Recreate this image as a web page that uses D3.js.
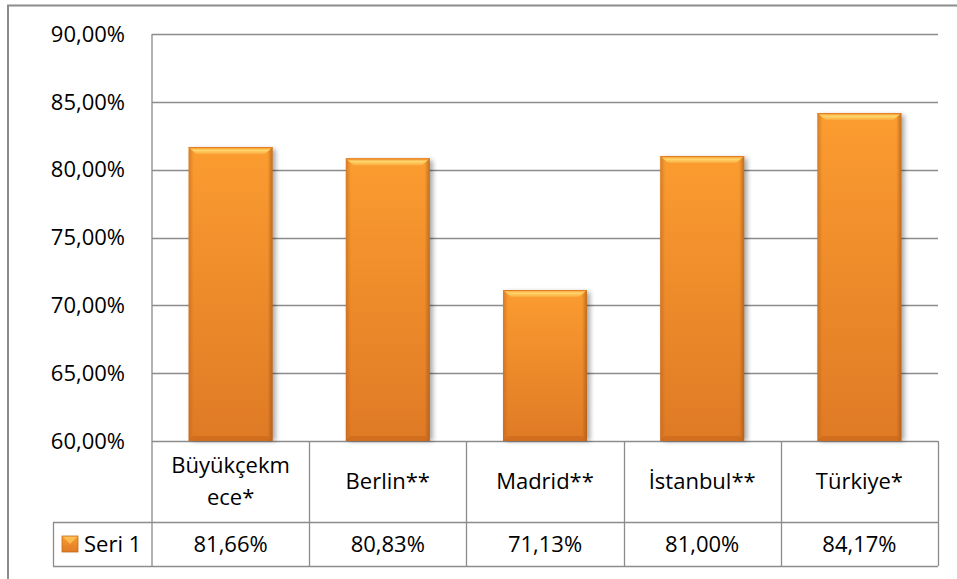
<!DOCTYPE html>
<html><head><meta charset="utf-8">
<script src="https://cdn.jsdelivr.net/npm/d3@7/dist/d3.min.js"></script>
<style>
html,body{margin:0;padding:0;background:#fff;}
svg{display:block;}
text{font-family:"Open Sans",Calibri,sans-serif;fill:#000;}
</style></head><body>
<svg id="c" width="957" height="579"></svg>
<script>
const categories = ["Büyükçekmece*", "Berlin**", "Madrid**", "İstanbul**", "Türkiye*"];
const categoryLines = [["Büyükçekm", "ece*"], ["Berlin**"], ["Madrid**"], ["İstanbul**"], ["Türkiye*"]];
const values = [0.8166, 0.8083, 0.7113, 0.8100, 0.8417];
const valueLabels = ["81,66%", "80,83%", "71,13%", "81,00%", "84,17%"];
const seriesName = "Seri 1";
const yTicks = [0.60, 0.65, 0.70, 0.75, 0.80, 0.85, 0.90];

const svg = d3.select("#c");
const W = 957, H = 579;
const plotL = 152, plotR = 938, plotT = 34, plotB = 441;
const rowCatB = 522, rowValB = 566, legendL = 53;
const grid = "#8c8c8c";
const fs = 22;

const defs = svg.append("defs");
const g1 = defs.append("linearGradient").attr("id","barG").attr("x1",0).attr("y1",0).attr("x2",0).attr("y2",1);
g1.append("stop").attr("offset","0%").attr("stop-color","#fb9c30");
g1.append("stop").attr("offset","100%").attr("stop-color","#df7a25");
const g2 = defs.append("linearGradient").attr("id","sideG").attr("x1",0).attr("y1",0).attr("x2",1).attr("y2",0);
g2.append("stop").attr("offset","0%").attr("stop-color","#b8611a").attr("stop-opacity",0.55);
g2.append("stop").attr("offset","6%").attr("stop-color","#b8611a").attr("stop-opacity",0);
g2.append("stop").attr("offset","94%").attr("stop-color","#9a4f12").attr("stop-opacity",0);
g2.append("stop").attr("offset","100%").attr("stop-color","#9a4f12").attr("stop-opacity",0.6);
const g3 = defs.append("linearGradient").attr("id","topG").attr("x1",0).attr("y1",0).attr("x2",0).attr("y2",1);
g3.append("stop").attr("offset","0%").attr("stop-color","#f7952c");
g3.append("stop").attr("offset","45%").attr("stop-color","#ffd76c");
g3.append("stop").attr("offset","100%").attr("stop-color","#fca83c");
const blur = defs.append("filter").attr("id","sh").attr("x","-20%").attr("y","-5%").attr("width","140%").attr("height","110%");
blur.append("feGaussianBlur").attr("stdDeviation",2.5);

// outer border
svg.append("rect").attr("x",8).attr("y",5.5).attr("width",W+20).attr("height",H+20)
  .attr("fill","none").attr("stroke","#8c8c8c").attr("stroke-width",2);

const y = d3.scaleLinear().domain([0.60, 0.90]).range([plotB, plotT]);
const x = d3.scaleBand().domain(categories).range([plotL, plotR]).paddingInner(0).paddingOuter(0);
const xb = d3.scaleBand().domain(categories).range([plotL, plotR]).paddingInner(0.466).paddingOuter(0.233);

// gridlines
svg.append("g").selectAll("line").data(yTicks).join("line")
  .attr("x1",plotL).attr("x2",plotR).attr("y1",d=>Math.round(y(d))+0.5).attr("y2",d=>Math.round(y(d))+0.5)
  .attr("stroke",grid).attr("stroke-width",1.3);

// y axis labels
const fmt = d => d3.format(".2f")(d*100).replace(".", ",") + "%";
svg.append("g").selectAll("text").data(yTicks).join("text")
  .attr("x",125).attr("y",d=>y(d)).attr("dy","0.35em").attr("text-anchor","end")
  .attr("font-size",fs).text(fmt);

// bars
const bars = svg.append("g").selectAll("g").data(values).join("g");
bars.each(function(v,i){
  const g = d3.select(this);
  const bx = xb(categories[i]), bw = xb.bandwidth(), by = y(v), bh = plotB - by;
  g.append("rect").attr("x",bx+3).attr("y",by+2).attr("width",bw).attr("height",bh-2)
    .attr("fill","#000").attr("opacity",0.35).attr("filter","url(#sh)");
  g.append("rect").attr("x",bx).attr("y",by).attr("width",bw).attr("height",bh).attr("fill","url(#barG)");
  g.append("rect").attr("x",bx).attr("y",by).attr("width",bw).attr("height",bh).attr("fill","url(#sideG)");
  // bottom darker bevel
  g.append("polygon").attr("points",[[bx,plotB],[bx+bw,plotB],[bx+bw-5,plotB-5],[bx+5,plotB-5]].join(" "))
    .attr("fill","#c8651a").attr("opacity",0.6);
  // top bevel
  g.append("polygon").attr("points",[[bx,by],[bx+bw,by],[bx+bw-8,by+7],[bx+8,by+7]].join(" "))
    .attr("fill","url(#topG)");
  g.append("line").attr("x1",bx).attr("x2",bx+bw).attr("y1",by+0.5).attr("y2",by+0.5)
    .attr("stroke","#e37d20").attr("stroke-width",1);
});

// table lines
const tbl = svg.append("g").attr("stroke",grid).attr("stroke-width",1.3).attr("fill","none");
tbl.append("line").attr("x1",plotL).attr("x2",plotL).attr("y1",plotT).attr("y2",rowValB);
const colEdges = categories.map(c=>x(c)+x.bandwidth());
tbl.selectAll("line.c").data(colEdges).join("line").attr("class","c")
  .attr("x1",d=>Math.round(d)+0.5).attr("x2",d=>Math.round(d)+0.5).attr("y1",plotB).attr("y2",rowValB);
tbl.append("line").attr("x1",legendL).attr("x2",plotR).attr("y1",rowCatB+0.5).attr("y2",rowCatB+0.5);
tbl.append("line").attr("x1",legendL).attr("x2",plotR).attr("y1",rowValB+0.5).attr("y2",rowValB+0.5);
tbl.append("line").attr("x1",legendL+0.5).attr("x2",legendL+0.5).attr("y1",rowCatB).attr("y2",rowValB);

// category labels
const lh = 32;
svg.append("g").selectAll("text").data(categories).join("text")
  .attr("text-anchor","middle").attr("font-size",fs)
  .each(function(c,i){
    const lines = categoryLines[i];
    const cx = x(c) + x.bandwidth()/2;
    const cy = (plotB + rowCatB)/2;
    const t = d3.select(this);
    lines.forEach((l,k)=>{
      t.append("tspan").attr("x",cx).attr("y",cy + (k - (lines.length-1)/2)*lh).attr("dy","0.35em").text(l);
    });
  });

// value labels
svg.append("g").selectAll("text").data(valueLabels).join("text")
  .attr("text-anchor","middle").attr("font-size",fs)
  .attr("x",(d,i)=>x(categories[i]) + x.bandwidth()/2).attr("y",(rowCatB+rowValB)/2).attr("dy","0.35em")
  .text(d=>d);

// legend key
const kx = 62, ky = 536, ks = 16;
svg.append("rect").attr("x",kx).attr("y",ky).attr("width",ks).attr("height",ks).attr("fill","url(#barG)");
svg.append("polygon").attr("points",[[kx,ky],[kx+ks,ky],[kx+ks/2,ky+ks/2]].join(" ")).attr("fill","#ffc65a").attr("opacity",0.8);
svg.append("rect").attr("x",kx).attr("y",ky).attr("width",ks).attr("height",ks).attr("fill","none").attr("stroke","#c06a1f").attr("stroke-width",0.8);
svg.append("text").attr("x",84).attr("y",(rowCatB+rowValB)/2).attr("dy","0.35em").attr("font-size",fs).text(seriesName);
</script>
</body></html>
